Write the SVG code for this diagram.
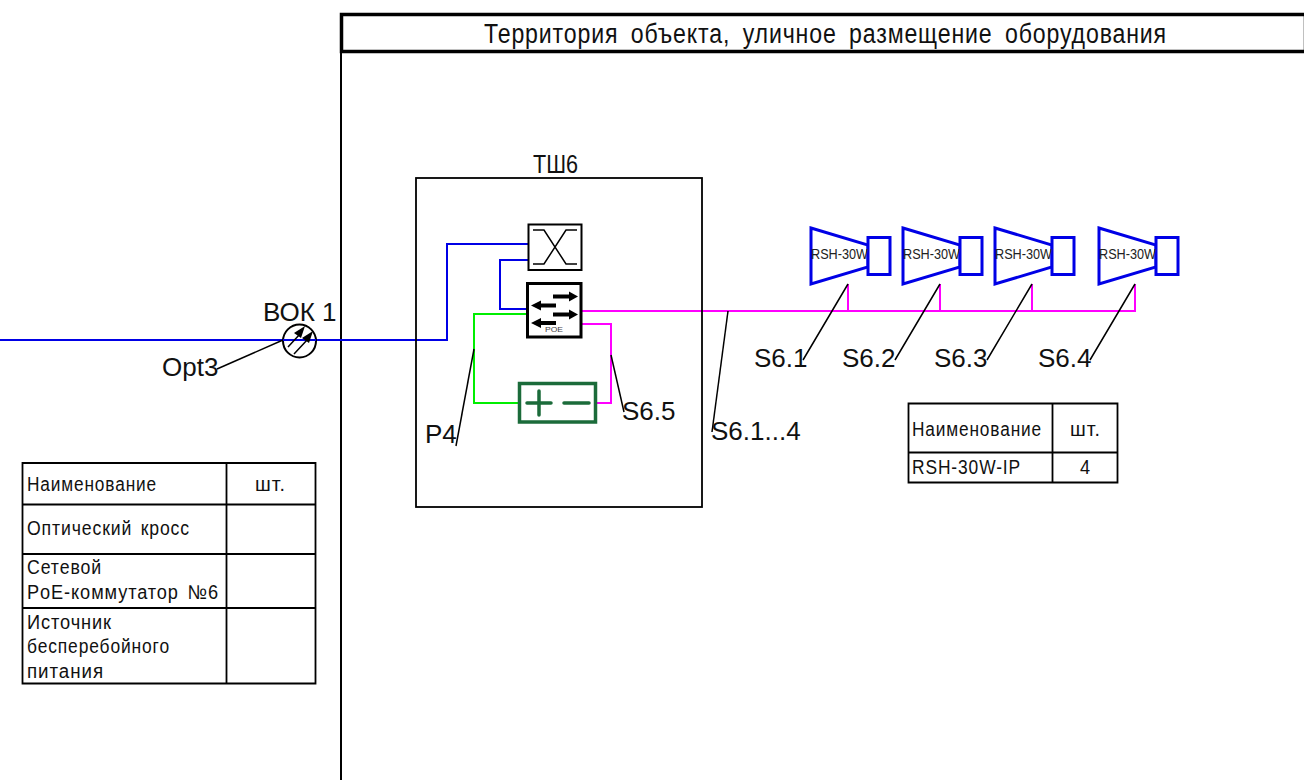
<svg xmlns="http://www.w3.org/2000/svg" width="1304" height="780" viewBox="0 0 1304 780">
<style>
.frame{fill:none;stroke:#000;stroke-width:1.800}
.blue{fill:none;stroke:#0000e6;stroke-width:2}
.mag{fill:none;stroke:#ff00ff;stroke-width:2}
.grn{fill:none;stroke:#00ee00;stroke-width:2}
.lead{fill:none;stroke:#000;stroke-width:1.500}
.sp{fill:#fff;stroke:#0000e6;stroke-width:3}
.lab{font-family:"Liberation Sans",Arial,sans-serif;font-size:26px;fill:#111}
.sm{font-family:"Liberation Sans",Arial,sans-serif;font-size:14px;fill:#222}
.iso{font-family:"Liberation Sans",Arial,sans-serif;font-size:20px;fill:#111;letter-spacing:1px;word-spacing:3px}
.ah{fill:#000;stroke:none}
.shaft{stroke:#000;stroke-width:4}
</style>
<defs>
<g id="speaker">
<path class="sp" d="M1 0L58 17V39L1 56Z"/>
<rect class="sp" x="58" y="9.500" width="22" height="37"/>
<text class="sm" x="1" y="31" textLength="57" lengthAdjust="spacingAndGlyphs">RSH-30W</text>
</g>
</defs>
<g id="outer-frame">
<path d="M341 14V780" fill="none" stroke="#000" stroke-width="2"/>
<rect x="341.500" y="14.500" width="964" height="37" fill="none" stroke="#000" stroke-width="3.500"/>
<text class="iso" x="484" y="43" style="font-size:27px;word-spacing:6px" textLength="683" lengthAdjust="spacingAndGlyphs">Территория объекта, уличное размещение оборудования</text>
</g>
<g id="connectors">
<path class="blue" d="M0 340H447V244H528"/>
<path class="blue" d="M528 260H500V309H528"/>
<path class="grn" d="M528 314H474V403H519"/>
<path class="mag" d="M581 311H1135V284"/>
<path class="mag" d="M848 284V311M940 284V311M1032 284V311"/>
<path class="mag" d="M581 324H611V403H596"/>
<path class="lead" d="M217 369L283 340"/>
<path class="lead" d="M474 349L456 446"/>
<path class="lead" d="M611 355L624 412"/>
<path class="lead" d="M728 311L712 432"/>
<path class="lead" d="M848 284L803 360M940 284L895 360M1032 284L987 360M1135 284L1090 360"/>
</g>
<g id="tsh6">
<rect class="frame" x="416" y="178" width="286" height="329"/>
<text class="iso" x="533" y="173" style="font-size:25px;letter-spacing:0" textLength="45" lengthAdjust="spacingAndGlyphs">ТШ6</text>
</g>
<g id="cross">
<rect x="528.500" y="224.500" width="53" height="45.500" fill="#fff" stroke="#000" stroke-width="2"/>
<path d="M533 230H544L566 264H577M533 264H544L566 230H577" fill="none" stroke="#000" stroke-width="1.500"/>
</g>
<g id="switch">
<rect x="527.500" y="283.500" width="53.500" height="53.500" fill="#fff" stroke="#000" stroke-width="3"/>
<path class="shaft" d="M553 296.500H571"/><path class="ah" d="M569 291.500L578 296.500L569 301.500Z"/>
<path class="shaft" d="M540 305.500H556"/><path class="ah" d="M541 300.500L531 305.500L541 310.500Z"/>
<path class="shaft" d="M553 314.500H571"/><path class="ah" d="M569 309.500L578 314.500L569 319.500Z"/>
<path class="shaft" d="M540 323H556"/><path class="ah" d="M541 318L531 323L541 328Z"/>
<text class="sm" x="545" y="332" style="font-size:8px;fill:#444" textLength="18" lengthAdjust="spacingAndGlyphs">POE</text>
</g>
<g id="ups">
<rect x="519.500" y="383.500" width="76" height="38.500" fill="#fff" stroke="#1b6b3a" stroke-width="3.500"/>
<path d="M527 403H551M539 391V415M564 403H589" fill="none" stroke="#1b6b3a" stroke-width="3.500" stroke-linecap="round"/>
</g>
<g id="vok1">
<circle cx="299.500" cy="341" r="16.500" fill="#fff" stroke="#000" stroke-width="2"/>
<path d="M283 340H316" stroke="#0000e6" stroke-width="2"/>
<path d="M288 347L300 334M294 354L308 339" stroke="#000" stroke-width="1.500"/>
<path class="ah" d="M294 333L305 326L301 338Z"/>
<path class="ah" d="M302 338L313 331L309 343Z"/>
<text class="lab" x="263" y="321">ВОК 1</text>
</g>
<text class="lab" x="162" y="376">Opt3</text>
<text class="lab" x="425" y="443">P4</text>
<text class="lab" x="622" y="420">S6.5</text>
<text class="lab" x="711" y="440">S6.1...4</text>
<text class="lab" x="754" y="367">S6.1</text>
<text class="lab" x="842" y="367">S6.2</text>
<text class="lab" x="934" y="367">S6.3</text>
<text class="lab" x="1038" y="367">S6.4</text>
<g id="sp1"><use href="#speaker" x="810" y="228"/></g>
<g id="sp2"><use href="#speaker" x="902" y="228"/></g>
<g id="sp3"><use href="#speaker" x="994" y="228"/></g>
<g id="sp4"><use href="#speaker" x="1098" y="228"/></g>
<g id="table-left">
<path class="frame" d="M22.500 463H315.500V683.500H22.500ZM226.500 463V683.500M22.500 504.500H315.500M22.500 554H315.500M22.500 608H315.500"/>
<text class="iso" x="27" y="491" textLength="130" lengthAdjust="spacingAndGlyphs">Наименование</text>
<text class="iso" x="255" y="491" textLength="31" lengthAdjust="spacingAndGlyphs">шт.</text>
<text class="iso" x="27" y="535" textLength="163" lengthAdjust="spacingAndGlyphs">Оптический кросс</text>
<text class="iso" x="27" y="574" textLength="75" lengthAdjust="spacingAndGlyphs">Сетевой</text>
<text class="iso" x="27" y="599" textLength="192" lengthAdjust="spacingAndGlyphs">PoE-коммутатор №6</text>
<text class="iso" x="27" y="629" textLength="85" lengthAdjust="spacingAndGlyphs">Источник</text>
<text class="iso" x="27" y="653" textLength="143" lengthAdjust="spacingAndGlyphs">бесперебойного</text>
<text class="iso" x="27" y="678" textLength="77" lengthAdjust="spacingAndGlyphs">питания</text>
</g>
<g id="table-right">
<path class="frame" d="M908.500 403.500H1117.500V482.500H908.500ZM1052.500 403.500V482.500M908.500 452.500H1117.500"/>
<text class="iso" x="912" y="436" textLength="130" lengthAdjust="spacingAndGlyphs">Наименование</text>
<text class="iso" x="1070" y="436" textLength="31" lengthAdjust="spacingAndGlyphs">шт.</text>
<text class="iso" x="912" y="474" textLength="109" lengthAdjust="spacingAndGlyphs">RSH-30W-IP</text>
<text class="iso" x="1080" y="474" textLength="11" lengthAdjust="spacingAndGlyphs">4</text>
</g>
</svg>
